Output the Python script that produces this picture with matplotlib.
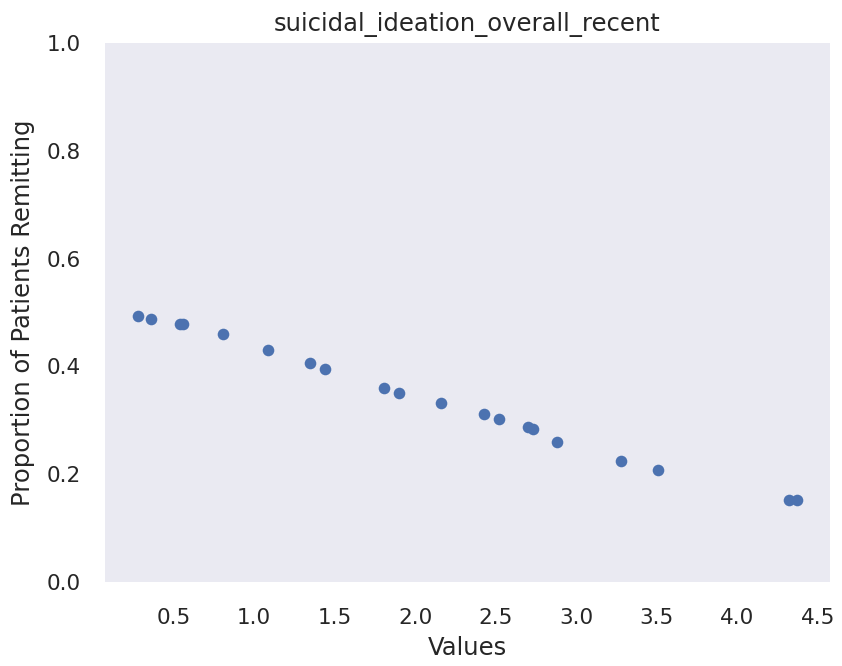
import matplotlib
matplotlib.use("Agg")
import matplotlib.pyplot as plt
import seaborn as sns

sns.set_style("dark")
plt.rcParams['font.family'] = ['DejaVu Sans']

# values
values = [0.28, 0.36, 0.54, 0.56, 0.81, 1.09, 1.35, 1.44, 1.81, 1.90,
          2.16, 2.43, 2.52, 2.70, 2.73, 2.88, 3.28, 3.51, 4.32, 4.37]
remitting = [0.494, 0.488, 0.478, 0.478, 0.461, 0.431, 0.407, 0.396, 0.360, 0.350,
             0.333, 0.312, 0.303, 0.287, 0.284, 0.260, 0.224, 0.208, 0.153, 0.153]

fig = plt.figure(figsize=(8.42, 6.66), dpi=100)
ax = fig.add_axes([0.1247, 0.1261, 0.861, 0.8093])

ax.scatter(values, remitting, s=70, color='#4C72B0', linewidths=0)

ax.set_ylim(0, 1)
ax.set_xticks([0.5, 1.0, 1.5, 2.0, 2.5, 3.0, 3.5, 4.0, 4.5])
ax.tick_params(axis='x', labelsize=15.5, colors='#262626', pad=15)
ax.tick_params(axis='y', labelsize=15.5, colors='#262626', pad=14)
for sp in ax.spines.values():
    sp.set_visible(False)

ax.set_xlabel('Values', fontsize=17.5, color='#262626', labelpad=6)
ax.set_ylabel('Proportion of Patients Remitting', fontsize=17.5, color='#262626', labelpad=8)
ax.set_title('suicidal_ideation_overall_recent', fontsize=17.5, color='#262626', pad=9)

fig.savefig('out.png', dpi=100)
